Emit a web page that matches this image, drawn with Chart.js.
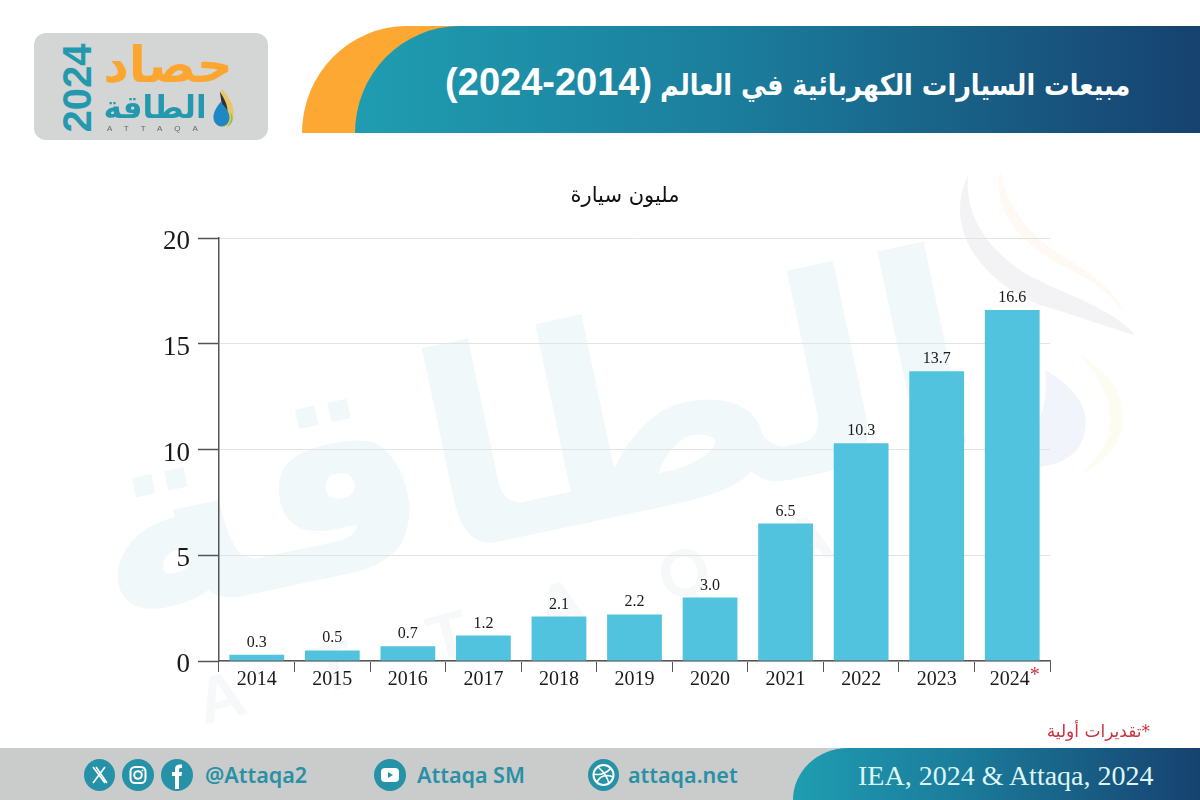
<!DOCTYPE html>
<html lang="ar">
<head>
<meta charset="utf-8">
<title>مبيعات السيارات الكهربائية في العالم</title>
<script src="https://cdn.jsdelivr.net/npm/chart.js@4"></script>
<style>
  html, body { margin: 0; padding: 0; background: #fff; }
  #page { position: relative; width: 1200px; height: 800px; overflow: hidden; font-family: "DejaVu Sans", sans-serif; }
  #page > * { position: absolute; }
  canvas { left: 0; top: 0; }

  /* watermark behind the chart */
  .wm { color: #f1f8fa; font-weight: bold; white-space: nowrap; line-height: 1; }
  #wmWord { left: 80px; top: 305px; font-size: 270px; transform: rotate(-12deg); transform-origin: center; }
  #wmLatin { left: 185px; top: 575px; font-family: "Liberation Sans"; font-size: 66px; letter-spacing: 78px; color: #f7f8f9; transform: rotate(-15deg); }
  #wmDrop { left: 950px; top: 165px; }

  /* banner */
  #bannerBack { left: 302px; top: 26px; width: 200px; height: 107px; background: #fda832; border-top-left-radius: 105px 107px; }
  #banner { left: 355px; top: 26px; width: 845px; height: 107px; border-top-left-radius: 105px 107px;
    background: linear-gradient(90deg, #1f9db1 0%, #1b7d9c 45%, #164270 100%); }
  #title { right: 70px; top: 58px; color: #fff; font-weight: bold; white-space: nowrap; direction: rtl; line-height: 48px; }
  #title .ar { display: inline-block; font-size: 29px; transform: scaleX(0.88); transform-origin: right center; }
  #title .num { display: inline-block; font: bold 38px/48px "Liberation Sans"; margin-right: -62px; }

  /* logo block */
  #logo { left: 34px; top: 33px; width: 234px; height: 107px; background: #d4d6d6; border-radius: 12px; }
  #logoYear { left: 32px; top: 73px; width: 90px; height: 30px; color: #2499ae; font: bold 40px/30px "Liberation Sans"; transform: rotate(-90deg); text-align: center; }
  #logoHarvest { left: 101px; top: 30px; width: 134px; text-align: center; color: #fca630; font-size: 50px; font-weight: bold; line-height: 70px; direction: rtl; }
  #logoAttaqa { left: 97px; top: 87px; width: 116px; text-align: center; color: #2499ae; font-size: 31px; font-weight: bold; line-height: 40px; direction: rtl; }
  #logoLatin { left: 107px; top: 124px; color: #666; font: 8px "Liberation Sans"; letter-spacing: 12px; }
  #logoDrop { left: 211px; top: 88px; }

  #unit { left: 525px; top: 181px; width: 200px; text-align: center; color: #111; font-size: 21px; line-height: 28px; direction: rtl; }
  #note { right: 50px; top: 719px; color: #c83440; font-size: 17px; line-height: 24px; direction: rtl; }

  /* footer */
  #footer { left: 0; top: 748px; width: 1200px; height: 52px; background: #c9cccb; }
  #footerSource { left: 793px; top: 748px; width: 407px; height: 52px; border-top-left-radius: 55px 52px;
    background: linear-gradient(90deg, #1f9db1 0%, #1b7d9c 40%, #164270 100%); }
  #source { left: 858px; top: 760px; color: #dcf5f5; font: 28px/32px "Liberation Serif"; white-space: nowrap; }
  .handle { top: 761px; color: #2a90a6; font: 600 21.5px/28px "Noto Sans"; white-space: nowrap; }
  .icon { top: 759px; }
</style>
</head>
<body>
<div id="page">
  <div id="wmWord" class="wm">الطاقة</div>
  <div id="wmLatin" class="wm">ATTAQA</div>
  <svg id="wmDrop" width="200" height="320" viewBox="0 0 200 320">
    <path d="M18 10 C-10 70 40 120 90 140 C125 150 165 165 185 170 C160 140 100 125 70 105 C35 80 15 50 18 10Z" fill="#f3f3f5"/>
    <path d="M50 5 C40 60 90 90 130 110 C150 120 165 135 175 150 C160 110 110 95 85 70 C65 50 55 30 50 5Z" fill="#fef9f2"/>
    <path d="M95 205 C130 225 145 250 130 280 C115 305 70 310 40 290 C75 290 100 260 95 205Z" fill="#f1f4fb"/>
    <path d="M130 190 C185 220 190 280 130 310 C175 270 165 230 130 190Z" fill="#fdfcf1"/>
  </svg>

  <canvas id="salesChart" width="1200" height="800"></canvas>

  <div id="bannerBack"></div>
  <div id="banner"></div>
  <div id="title"><span class="ar">مبيعات السيارات الكهربائية في العالم</span> <span class="num">(2024-2014)</span></div>

  <div id="logo"></div>
  <div id="logoYear">2024</div>
  <div id="logoHarvest">حصاد</div>
  <div id="logoAttaqa">الطاقة</div>
  <div id="logoLatin">ATTAQA</div>
  <svg id="logoDrop" width="24" height="40" viewBox="0 0 30 46" preserveAspectRatio="none">
    <path d="M13 0 C24 12 30 22 28 34 C26 42 20 45 14 45 Z" fill="#e9c66b"/>
    <path d="M11 4 C18 14 22 22 20 30 L14 22 Z" fill="#333"/>
    <path d="M12 16 C3 26 1 34 5 40 C10 47 22 45 23 35 C24 28 18 22 12 16Z" fill="#1f88c4"/>
    <path d="M24 28 C30 34 27 42 20 45 C25 40 26 34 24 28Z" fill="#8dc63f"/>
  </svg>

  <div id="unit">مليون سيارة</div>
  <div id="note">*تقديرات أولية</div>

  <div id="footer"></div>
  <div id="footerSource"></div>
  <div id="source">IEA, 2024 &amp; Attaqa, 2024</div>

  <svg class="icon" style="left:84px" width="31" height="32" viewBox="0 0 31 32">
    <ellipse cx="15.5" cy="16" rx="15.5" ry="16" fill="#2592a8"/>
    <path d="M9 8 L21 24 M21 8 L9 24 M12 8 L23 24" stroke="#fff" stroke-width="1.6" fill="none"/>
  </svg>
  <svg class="icon" style="left:122px" width="32" height="32" viewBox="0 0 32 32">
    <ellipse cx="16" cy="16" rx="16" ry="16" fill="#2592a8"/>
    <rect x="8.5" y="8" width="15" height="16" rx="4.5" stroke="#fff" stroke-width="2" fill="none"/>
    <circle cx="16" cy="16" r="3.8" stroke="#fff" stroke-width="2" fill="none"/>
    <circle cx="20.5" cy="11.5" r="1" fill="#fff"/>
  </svg>
  <svg class="icon" style="left:161px" width="32" height="32" viewBox="0 0 32 32">
    <ellipse cx="16" cy="16" rx="16" ry="16" fill="#2592a8"/>
    <path d="M14 30 V17 H11 V13 H14 V10 C14 6 17 5 21 5.500 V9 C18.500 9 18 9.500 18 11 V13 H21 L20.500 17 H18 V30Z" fill="#fff"/>
  </svg>
  <div class="handle" style="left:205px">@Attaqa2</div>
  <svg class="icon" style="left:374px" width="32" height="32" viewBox="0 0 32 32">
    <ellipse cx="16" cy="16" rx="16" ry="16" fill="#2592a8"/>
    <rect x="7" y="9" width="18" height="14" rx="4" fill="#fff"/>
    <path d="M14 13 L19 16 L14 19Z" fill="#2592a8"/>
  </svg>
  <div class="handle" style="left:417px">Attaqa SM</div>
  <svg class="icon" style="left:588px" width="31" height="32" viewBox="0 0 31 32">
    <ellipse cx="15.500" cy="16" rx="15.500" ry="16" fill="#2592a8"/>
    <circle cx="15.500" cy="16" r="10" stroke="#fff" stroke-width="2" fill="none"/>
    <path d="M10 8 C16 13 20 20 21 25 M6 15 C13 17 20 13 23 9 M9 23 C12 17 18 15 25 18" stroke="#fff" stroke-width="1.600" fill="none"/>
  </svg>
  <div class="handle" style="left:628px">attaqa.net</div>
</div>

<script>
// data
const years = ["2014", "2015", "2016", "2017", "2018", "2019", "2020", "2021", "2022", "2023", "2024"];
const sales = [0.3, 0.5, 0.7, 1.2, 2.1, 2.2, 3.0, 6.5, 10.3, 13.7, 16.6];
const yTicks = [0, 5, 10, 15, 20];
const estimatedYear = "2024"; // gets the red asterisk

const SERIF = '"Liberation Serif", serif';
const AXIS_COLOR = "#555";

// value above each bar, y tick labels (they sit a little under their ticks in the original),
// and the red asterisk after the estimated year
const labelsPlugin = {
  id: "barLabels",
  afterDatasetsDraw(chart) {
    const { ctx, scales } = chart;
    ctx.save();
    ctx.fillStyle = "#1a1a1a";
    ctx.font = "16px " + SERIF;
    ctx.textAlign = "center";
    ctx.textBaseline = "alphabetic";
    chart.getDatasetMeta(0).data.forEach((bar, i) => {
      ctx.fillText(sales[i].toFixed(1), bar.x, bar.y - 8);
    });

    ctx.font = "27px " + SERIF;
    ctx.textAlign = "right";
    ctx.textBaseline = "middle";
    yTicks.forEach((v) => {
      ctx.fillText(String(v), scales.y.left + 50, scales.y.getPixelForValue(v) + 4);
    });

    const i = years.indexOf(estimatedYear);
    ctx.fillStyle = "#d0323f";
    ctx.font = "20px " + SERIF;
    ctx.textAlign = "center";
    ctx.textBaseline = "alphabetic";
    ctx.fillText("*", scales.x.getPixelForTick(i) + 22.5, 681);
    ctx.restore();
  },
};

new Chart(document.getElementById("salesChart"), {
  type: "bar",
  data: {
    labels: years,
    datasets: [
      {
        data: sales,
        backgroundColor: "#52c3de",
        barPercentage: 0.725,
        categoryPercentage: 1,
      },
    ],
  },
  options: {
    responsive: false,
    animation: false,
    layout: { padding: { left: 140, right: 150, top: 238, bottom: 100 } },
    plugins: { legend: { display: false }, tooltip: { enabled: false } },
    scales: {
      x: {
        afterFit: (scale) => { scale.height = 39; scale.paddingLeft = 0; scale.paddingRight = 0; },
        border: { color: AXIS_COLOR, width: 1.5 },
        grid: { drawOnChartArea: false, tickLength: 11, color: AXIS_COLOR, offset: true },
        ticks: {
          // nudged left so the year plus its asterisk sit centred
          callback: (value, i) => (years[i] === estimatedYear ? years[i] + "\u00a0" : years[i]),
          color: "#1a1a1a",
          font: { family: SERIF, size: 20 },
          padding: -4,
          maxRotation: 0,
          autoSkip: false,
        },
      },
      y: {
        min: 0,
        max: 20,
        afterFit: (scale) => { scale.width = 79; },
        afterBuildTicks: (scale) => { scale.ticks = yTicks.map((value) => ({ value })); },
        border: { color: AXIS_COLOR, width: 1.5 },
        grid: { color: "#e2e3e3", tickColor: AXIS_COLOR, tickLength: 21, lineWidth: 1, tickWidth: 1.5 },
        ticks: { display: false }, // drawn by labelsPlugin
      },
    },
  },
  plugins: [labelsPlugin],
});
</script>
</body>
</html>
